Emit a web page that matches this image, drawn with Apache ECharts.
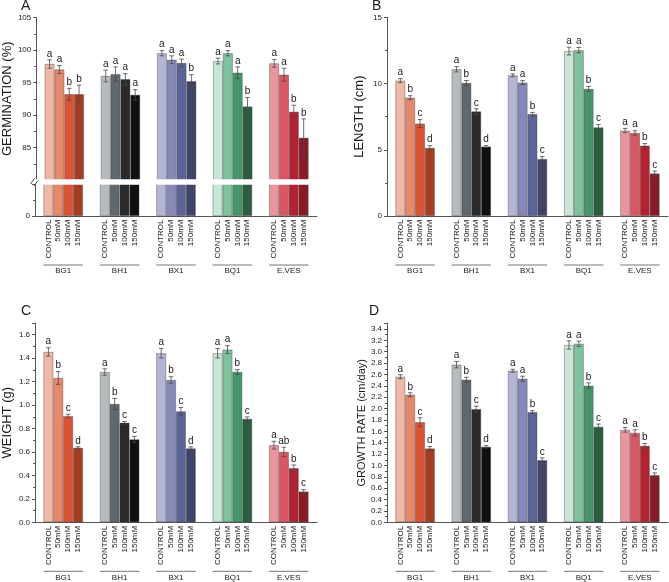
<!DOCTYPE html>
<html><head><meta charset="utf-8">
<script src="https://cdn.jsdelivr.net/npm/echarts@6/dist/echarts.min.js"></script>
<style>html,body{margin:0;padding:0;background:#fff}#c{width:669px;height:582px}</style>
</head><body><div id="c"></div>
<script>
const groups = ['BG1', 'BH1', 'BX1', 'BQ1', 'E.VES'];
const treatments = ['CONTROL', '50mM', '100mM', '150mM'];

// A: germination (%)
const germMean = [[97.85, 97.0, 93.2, 93.2], [96.0, 96.3, 95.5, 93.1], [99.5, 98.5, 98.0, 95.2], [98.3, 99.5, 96.5, 91.3], [97.95, 96.2, 90.5, 86.5]];
const germErr = [[0.65, 0.6, 0.9, 1.4], [0.9, 1.1, 0.85, 0.8], [0.4, 0.6, 0.6, 1.0], [0.45, 0.4, 0.9, 1.4], [0.6, 1.0, 1.0, 2.9]];
const germLetters = [['a', 'a', 'b', 'b'], ['a', 'a', 'a', 'a'], ['a', 'a', 'a', 'b'], ['a', 'a', 'a', 'b'], ['a', 'a', 'b', 'b']];

// B: length (cm)
const lenMean = [[10.22, 8.93, 6.98, 5.14], [11.08, 10.04, 7.89, 5.24], [10.62, 10.07, 7.69, 4.30], [12.45, 12.52, 9.59, 6.68], [6.45, 6.27, 5.31, 3.21]];
const lenErr = [[0.15, 0.15, 0.3, 0.17], [0.2, 0.19, 0.2, 0.07], [0.11, 0.15, 0.13, 0.18], [0.29, 0.2, 0.19, 0.22], [0.16, 0.17, 0.16, 0.18]];
const lenLetters = [['a', 'b', 'c', 'd'], ['a', 'b', 'c', 'd'], ['a', 'a', 'b', 'c'], ['a', 'a', 'b', 'c'], ['a', 'a', 'b', 'c']];

// C: weight (g)
const wtMean = [[1.453, 1.231, 0.906, 0.635], [1.282, 1.009, 0.849, 0.707], [1.442, 1.214, 0.946, 0.630], [1.442, 1.473, 1.282, 0.883], [0.658, 0.601, 0.462, 0.262]];
const wtErr = [[0.036, 0.054, 0.016, 0.009], [0.027, 0.047, 0.011, 0.026], [0.04, 0.028, 0.033, 0.013], [0.04, 0.034, 0.02, 0.016], [0.033, 0.04, 0.027, 0.016]];
const wtLetters = [['a', 'b', 'c', 'd'], ['a', 'b', 'c', 'c'], ['a', 'b', 'c', 'd'], ['a', 'a', 'b', 'c'], ['a', 'ab', 'b', 'c']];

// D: growth rate (cm/day)
const grMean = [[2.56, 2.243, 1.762, 1.298], [2.772, 2.507, 1.99, 1.327], [2.666, 2.525, 1.938, 1.092], [3.118, 3.141, 2.402, 1.679], [1.627, 1.574, 1.345, 0.828]];
const grErr = [[0.035, 0.035, 0.076, 0.035], [0.056, 0.044, 0.053, 0.02], [0.026, 0.044, 0.026, 0.041], [0.073, 0.047, 0.05, 0.05], [0.041, 0.053, 0.041, 0.041]];
const grLetters = [['a', 'b', 'c', 'd'], ['a', 'b', 'c', 'd'], ['a', 'a', 'b', 'c'], ['a', 'a', 'b', 'c'], ['a', 'a', 'b', 'c']];

// colours per group (CONTROL, 50mM, 100mM, 150mM)
const palette = [
  ['#EEB8A4', '#E5886C', '#DB5333', '#A63C21'],
  ['#B6BBBE', '#5F686E', '#272B2D', '#0F1010'],
  ['#B4B5D6', '#8689B6', '#5C6399', '#3F4468'],
  ['#C7E6D4', '#7EC29E', '#46966A', '#2B5D3F'],
  ['#EA959E', '#DC5563', '#B42231', '#891B27']
];

const FONT = '"Liberation Sans", Arial, sans-serif';
const AXIS_COLOR = '#555';
const TEXT_COLOR = '#1a1a1a';
const CAT_GAP = 0.30;

function barSeries(mean, gi) {
  return treatments.map((tr, t) => ({
    type: 'bar', name: tr, xAxisIndex: gi, yAxisIndex: gi,
    barGap: '0%', barCategoryGap: (CAT_GAP * 100) + '%',
    clip: true, silent: true,
    data: groups.map((g, k) => ({
      value: mean[k][t],
      itemStyle: { color: palette[k][t], borderColor: 'rgba(60,60,60,0.55)', borderWidth: 0.7 }
    }))
  }));
}

function barCenter(api, g, t) {
  const band = api.size([1, 0])[0];
  const bw = band * (1 - CAT_GAP) / treatments.length;
  const left = api.coord([g, 0])[0] - band * (1 - CAT_GAP) / 2;
  return { cx: left + (t + 0.5) * bw, left: left, width: band * (1 - CAT_GAP) };
}

function errSeries(mean, err, letters, gi) {
  const data = [];
  groups.forEach((g, k) => treatments.forEach((tr, t) => data.push([k, t, mean[k][t], err[k][t]])));
  return {
    type: 'custom', xAxisIndex: gi, yAxisIndex: gi, silent: true, clip: false, z: 5,
    encode: { x: 0, y: 2 },
    data: data,
    renderItem: function (params, api) {
      const g = api.value(0), t = api.value(1), v = api.value(2), e = api.value(3);
      const c = barCenter(api, g, t);
      const yHi = api.coord([g, v + e])[1];
      const yLo = api.coord([g, v - e])[1];
      const cap = 2.3;
      const st = { stroke: '#4a4a4a', lineWidth: 0.8 };
      return {
        type: 'group', children: [
          { type: 'line', shape: { x1: c.cx, y1: yHi, x2: c.cx, y2: yLo }, style: st },
          { type: 'line', shape: { x1: c.cx - cap, y1: yHi, x2: c.cx + cap, y2: yHi }, style: st },
          { type: 'line', shape: { x1: c.cx - cap, y1: yLo, x2: c.cx + cap, y2: yLo }, style: st },
          { type: 'text', x: c.cx, y: yHi - 1, style: { text: letters[g][t], align: 'center', verticalAlign: 'bottom', fontSize: 10, fontFamily: FONT, fill: TEXT_COLOR } }
        ]
      };
    }
  };
}

function treatmentLabelSeries(gi) {
  const data = [];
  groups.forEach((g, k) => treatments.forEach((tr, t) => data.push([k, t, 0])));
  return {
    type: 'custom', xAxisIndex: gi, yAxisIndex: gi, silent: true, clip: false, z: 5,
    encode: { x: 0, y: 2 },
    data: data,
    renderItem: function (params, api) {
      const g = api.value(0), t = api.value(1);
      const c = barCenter(api, g, t);
      const base = api.coord([g, 0])[1];
      const children = [
        { type: 'text', x: c.cx, y: base + 3.5, rotation: Math.PI / 2,
          style: { text: treatments[t], align: 'right', verticalAlign: 'middle', fontSize: 8, fontFamily: FONT, fill: TEXT_COLOR } }
      ];
      if (t === 0) {
        children.push({ type: 'line', shape: { x1: c.left, y1: base + 49, x2: c.left + c.width, y2: base + 49 }, style: { stroke: '#666', lineWidth: 0.9 } });
      }
      return { type: 'group', children: children };
    }
  };
}

const grids = [
  { left: 35, top: 17.5, width: 282, height: 162.5 },   // A upper
  { left: 35, top: 184, width: 282, height: 32 },       // A lower
  { left: 387, top: 17.3, width: 281, height: 198.7 },  // B
  { left: 35, top: 323, width: 282, height: 199.3 },    // C
  { left: 387, top: 323.3, width: 281, height: 199 }    // D
];

function xAx(gi, visible) {
  return {
    type: 'category', gridIndex: gi, data: groups,
    axisLine: { show: visible, lineStyle: { color: AXIS_COLOR, width: 1 } },
    axisTick: { show: false },
    axisLabel: { show: visible, margin: 51, fontSize: 8, fontFamily: FONT, color: TEXT_COLOR },
    splitLine: { show: false }
  };
}

function yAx(gi, o) {
  return Object.assign({
    type: 'value', gridIndex: gi,
    axisLine: { show: true, lineStyle: { color: AXIS_COLOR, width: 1 } },
    axisTick: { show: true, inside: false, length: 3, lineStyle: { color: AXIS_COLOR } },
    minorTick: { show: true, splitNumber: 2, length: 2, lineStyle: { color: AXIS_COLOR } },
    splitLine: { show: false },
    nameLocation: 'middle', nameGap: 21,
    nameTextStyle: { fontSize: 13, fontFamily: FONT, color: TEXT_COLOR }
  }, o);
}

function stepFormatter(step, digits, lo) {
  return function (v) {
    const r = v / step;
    if (Math.abs(r - Math.round(r)) > 1e-6) return '';
    if (lo !== undefined && v < lo) return '';
    return v.toFixed(digits);
  };
}

const labelStyle = { fontSize: 8, fontFamily: FONT, color: TEXT_COLOR, margin: 5 };

const yAxes = [
  yAx(0, { min: 80, max: 105, interval: 5, name: 'GERMINATION (%)',
    axisLabel: Object.assign({ formatter: stepFormatter(5, 0, 85) }, labelStyle) }),
  yAx(1, { min: 0, max: 5, interval: 5,
    axisLabel: Object.assign({ formatter: function (v) { return v === 0 ? '0' : ''; } }, labelStyle) }),
  yAx(2, { min: 0, max: 15, interval: 5, name: 'LENGTH (cm)',
    axisLabel: Object.assign({ formatter: stepFormatter(5, 0) }, labelStyle) }),
  yAx(3, { min: 0, max: 1.7, interval: 0.2, name: 'WEIGHT (g)',
    axisLabel: Object.assign({ formatter: stepFormatter(0.2, 1) }, labelStyle) }),
  yAx(4, { min: 0, max: 3.5, interval: 0.2, name: 'GROWTH RATE (cm/day)', nameGap: 20,
    nameTextStyle: { fontSize: 11, fontFamily: FONT, color: TEXT_COLOR },
    axisLabel: Object.assign({ formatter: stepFormatter(0.2, 1) }, labelStyle) })
];

const series = [].concat(
  barSeries(germMean, 0), barSeries(germMean, 1), [errSeries(germMean, germErr, germLetters, 0), treatmentLabelSeries(1)],
  barSeries(lenMean, 2), [errSeries(lenMean, lenErr, lenLetters, 2), treatmentLabelSeries(2)],
  barSeries(wtMean, 3), [errSeries(wtMean, wtErr, wtLetters, 3), treatmentLabelSeries(3)],
  barSeries(grMean, 4), [errSeries(grMean, grErr, grLetters, 4), treatmentLabelSeries(4)]
);

const panelTitle = (t, left, top) => ({ text: t, left: left, top: top, padding: 0,
  textStyle: { fontSize: 14, fontWeight: 'normal', fontFamily: FONT, color: TEXT_COLOR } });

const option = {
  animation: false,
  textStyle: { fontFamily: FONT },
  title: [panelTitle('A', 21, -1), panelTitle('B', 372, -1), panelTitle('C', 21, 304), panelTitle('D', 369, 304)],
  grid: grids,
  xAxis: [xAx(0, false), xAx(1, true), xAx(2, true), xAx(3, true), xAx(4, true)],
  yAxis: yAxes,
  series: series,
  graphic: [
    // white break band across panel A
    { type: 'rect', shape: { x: 35.6, y: 179.3, width: 282, height: 5.4 }, style: { fill: '#fff' }, z: 100 },
    { type: 'rect', shape: { x: 31, y: 180, width: 5, height: 4 }, style: { fill: '#fff' }, z: 100 },
    { type: 'line', shape: { x1: 30.5, y1: 184, x2: 34.5, y2: 178.5 }, style: { stroke: '#333', lineWidth: 0.9 }, z: 101 },
    { type: 'line', shape: { x1: 34, y1: 186, x2: 38, y2: 180.5 }, style: { stroke: '#333', lineWidth: 0.9 }, z: 101 }
  ]
};

const chart = echarts.init(document.getElementById('c'), null, { renderer: 'canvas' });
chart.setOption(option);
</script>
</body></html>
